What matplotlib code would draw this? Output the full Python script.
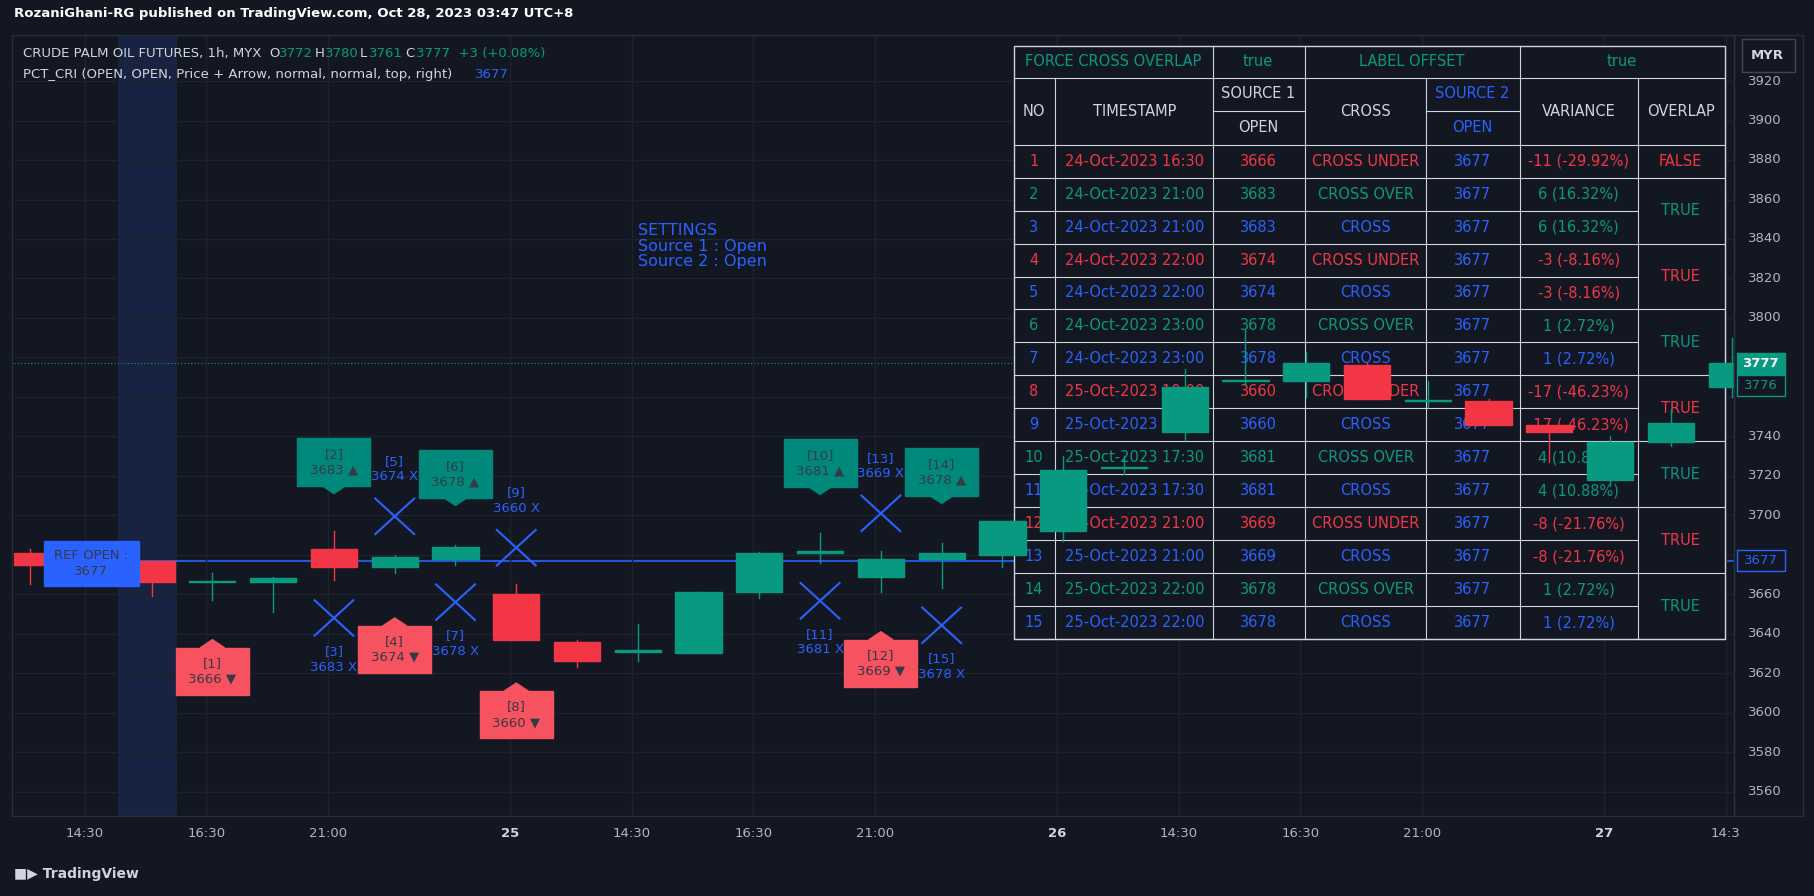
import matplotlib
matplotlib.use("Agg")
import matplotlib.pyplot as plt
from matplotlib.patches import Rectangle, Polygon

# ---- data ----
opens  = [3681, 3675, 3677, 3666, 3666, 3683, 3674, 3678, 3660, 3636, 3631, 3630, 3661, 3681, 3669,
          3678, 3680, 3692, 3724, 3742, 3768, 3768, 3776, 3758, 3758, 3746, 3718, 3737, 3765]
closes = [3675, 3677, 3666, 3666.4, 3668, 3674, 3679, 3684, 3637, 3626, 3631.4, 3661, 3681, 3682, 3678,
          3681, 3697, 3723, 3724.4, 3765, 3768.4, 3777, 3759, 3758.4, 3746, 3742, 3737, 3747, 3777]
highs  = [3683, 3686, 3677, 3671, 3669, 3692, 3680, 3685, 3665, 3637, 3645, 3661, 3681.5, 3691, 3682,
          3686, 3697, 3730, 3730, 3774, 3794, 3783, 3777, 3768, 3759, 3746, 3740, 3754, 3790]
lows   = [3665, 3671, 3659, 3657, 3651, 3667, 3671, 3675, 3637, 3623, 3626, 3630, 3658, 3676, 3661,
          3663, 3674, 3687, 3721, 3738, 3766, 3760, 3759, 3755, 3746, 3727, 3715, 3735, 3760]

ref_open = 3677
tick_pos = [1, 3, 5, 8, 10, 12, 14, 17, 19, 21, 23, 26, 28]
tick_lbl = ["14:30", "16:30", "21:00", "25", "14:30", "16:30", "21:00", "26", "14:30", "16:30", "21:00", "27", "14:3"]

# signal labels: number, bar index, value, kind, anchor price
sig_num   = [1, 2, 3, 4, 5, 6, 7, 8, 9, 10, 11, 12, 13, 14, 15]
sig_idx   = [3, 5, 5, 6, 6, 7, 7, 8, 8, 13, 13, 14, 14, 15, 15]
sig_val   = [3666, 3683, 3683, 3674, 3674, 3678, 3678, 3660, 3660, 3681, 3681, 3669, 3669, 3678, 3678]
sig_kind  = ["dn", "up", "xb", "dn", "xa", "up", "xb", "dn", "xa", "up", "xb", "dn", "xa", "up", "xb"]
sig_price = [3637, 3711, 3648, 3648, 3699.5, 3705, 3656, 3615, 3683.6, 3710.6, 3656.7, 3641, 3701, 3706, 3644.3]

# table
tb_ts = ["24-Oct-2023 16:30", "24-Oct-2023 21:00", "24-Oct-2023 21:00", "24-Oct-2023 22:00", "24-Oct-2023 22:00",
         "24-Oct-2023 23:00", "24-Oct-2023 23:00", "25-Oct-2023 10:00", "25-Oct-2023 10:00", "25-Oct-2023 17:30",
         "25-Oct-2023 17:30", "25-Oct-2023 21:00", "25-Oct-2023 21:00", "25-Oct-2023 22:00", "25-Oct-2023 22:00"]
tb_src1 = [3666, 3683, 3683, 3674, 3674, 3678, 3678, 3660, 3660, 3681, 3681, 3669, 3669, 3678, 3678]
tb_cross = ["CROSS UNDER", "CROSS OVER", "CROSS", "CROSS UNDER", "CROSS", "CROSS OVER", "CROSS", "CROSS UNDER",
            "CROSS", "CROSS OVER", "CROSS", "CROSS UNDER", "CROSS", "CROSS OVER", "CROSS"]
tb_src2 = [3677] * 15
tb_var = ["-11 (-29.92%)", "6 (16.32%)", "6 (16.32%)", "-3 (-8.16%)", "-3 (-8.16%)", "1 (2.72%)", "1 (2.72%)",
          "-17 (-46.23%)", "-17 (-46.23%)", "4 (10.88%)", "4 (10.88%)", "-8 (-21.76%)", "-8 (-21.76%)",
          "1 (2.72%)", "1 (2.72%)"]
tb_overlap = ["FALSE", "TRUE", "TRUE", "TRUE", "TRUE", "TRUE", "TRUE", "TRUE"]

BG = "#131722"
GRID = "#1e222d"
TEAL = "#089981"
RED = "#f23645"
BLUE = "#2962ff"
TXT = "#d1d4dc"
AX = "#b2b5be"

W, H = 1568.0, 774.0
SP = 52.5
fig = plt.figure(figsize=(18.15, 8.96), dpi=100, facecolor=BG)
F = fig.transFigure


def P(x, y):
    return (x / W, 1 - y / H)


ax = fig.add_axes([12 / W, 1 - 705 / H, (1498 - 12) / W, (705 - 30) / H])
ax.set_facecolor(BG)
ax.set_xlim(-14 / SP, 1472 / SP)
ax.set_ylim(3547.6, 3943.5)
for s in ax.spines.values():
    s.set_visible(False)
ax.set_xticks([t - 0.1 for t in tick_pos])
ax.set_xticklabels([])
ax.set_yticks(range(3560, 3921, 20))
ax.tick_params(length=0, labelleft=False, labelbottom=False)
ax.grid(True, color=GRID, lw=1, zorder=0)

# shaded session band
ax.axvspan(1.45, 2.42, color="#172340", zorder=0.5, lw=0)

# frame
fig.add_artist(Rectangle(P(10, 705), 1488 / W, 675 / H, transform=F, fill=False, ec="#2a2e39", lw=1))
fig.add_artist(Rectangle(P(1498, 705), 60 / W, 675 / H, transform=F, fill=False, ec="#2a2e39", lw=1))

# ref line
ax.plot([1.6, 30], [ref_open, ref_open], color=BLUE, lw=1.2, zorder=1)
ax.axhline(closes[-1], color=TEAL, lw=0.8, ls=(0, (1, 2)), zorder=1)

# table (drawn under candles)
cols = [876, 911, 1048, 1127, 1232, 1313, 1415, 1490]
rtop = 125
rh = (552 - 125) / 15
z_t = 2
ax.add_patch(Rectangle(P(876, 552), (1490 - 876) / W, 512 / H, fc=BG, ec=TXT, lw=1, clip_on=False,
                       transform=F, zorder=z_t))


def hline(x0, x1, y):
    ax.plot([x0 / W, x1 / W], [1 - y / H] * 2, color=TXT, lw=0.8, transform=F, zorder=z_t + 0.1, clip_on=False)


def vline(x, y0, y1):
    ax.plot([x / W] * 2, [1 - y0 / H, 1 - y1 / H], color=TXT, lw=0.8, transform=F, zorder=z_t + 0.1, clip_on=False)


def ttext(x, y, s, c, size=10.5):
    ax.text(x / W, 1 - y / H, s, color=c, fontsize=size, ha="center", va="center", transform=F,
            zorder=z_t + 0.2, clip_on=False)


hline(876, 1490, 67)
hline(1048, 1127, 96)
hline(1232, 1313, 96)
for i in range(16):
    y = rtop + i * rh
    if i in (0, 1, 15) or i % 2 == 1:
        hline(876, 1490, y)
    else:
        hline(876, 1415, y)
for c in cols[1:-1]:
    vline(c, 67, 552)
for c in (1048, 1127, 1313):
    vline(c, 40, 67)

ttext(962, 53, "FORCE CROSS OVERLAP", TEAL)
ttext(1087, 53, "true", TEAL)
ttext(1220, 53, "LABEL OFFSET", TEAL)
ttext(1401, 53, "true", TEAL)
ttext(893, 96, "NO", TXT)
ttext(980, 96, "TIMESTAMP", TXT)
ttext(1087, 81, "SOURCE 1", TXT)
ttext(1087, 110, "OPEN", TXT)
ttext(1180, 96, "CROSS", TXT)
ttext(1272, 81, "SOURCE 2", BLUE)
ttext(1272, 110, "OPEN", BLUE)
ttext(1364, 96, "VARIANCE", TXT)
ttext(1452, 96, "OVERLAP", TXT)

var_col = [RED, TEAL, TEAL, RED, RED, TEAL, BLUE, RED, RED, TEAL, TEAL, RED, RED, TEAL, BLUE]
for i in range(15):
    y = rtop + (i + 0.5) * rh
    c = RED if tb_cross[i] == "CROSS UNDER" else TEAL if tb_cross[i] == "CROSS OVER" else BLUE
    ttext(893, y, str(i + 1), c)
    ttext(980, y, tb_ts[i], c)
    ttext(1087, y, str(tb_src1[i]), c)
    ttext(1180, y, tb_cross[i], c)
    ttext(1272, y, str(tb_src2[i]), BLUE)
    ttext(1364, y, tb_var[i], var_col[i])
ttext(1452, rtop + 0.5 * rh, tb_overlap[0], RED)
for k in range(1, 8):
    y = rtop + (2 * k) * rh
    ttext(1452, y, tb_overlap[k], TEAL if k % 2 == 1 else RED)

# candles
bw = 0.76
for i, (o, h, l, c) in enumerate(zip(opens, highs, lows, closes)):
    col = TEAL if c >= o else RED
    ax.plot([i, i], [l, h], color=col, lw=1, zorder=3)
    ax.add_patch(Rectangle((i - bw / 2, min(o, c)), bw, max(abs(c - o), 0.6), color=col, zorder=3.1))

# signal labels
LRED = "#f7525f"
LTEAL = "#00897b"
DARK = "#363a45"
for n, i, v, k, p in zip(sig_num, sig_idx, sig_val, sig_kind, sig_price):
    if k in ("up", "dn"):
        w, hh, tip = 1.2, 24, 4
        if k == "up":
            col, y0, tri = LTEAL, p + tip, [(i - 0.2, p + tip + 0.1), (i + 0.2, p + tip + 0.1), (i, p)]
            s = f"[{n}]\n{v} ▲"
        else:
            col, y0, tri = LRED, p - tip - hh, [(i - 0.2, p - tip - 0.1), (i + 0.2, p - tip - 0.1), (i, p)]
            s = f"[{n}]\n{v} ▼"
        ax.add_patch(Rectangle((i - w / 2, y0), w, hh, color=col, zorder=4))
        ax.add_patch(Polygon(tri, color=col, zorder=4))
        ax.text(i, y0 + hh / 2, s, color=DARK, fontsize=9.5, ha="center", va="center", zorder=5,
                linespacing=1.25)
    else:
        ax.plot([i - 0.32, i + 0.32], [p - 9, p + 9], color=BLUE, lw=1.5, zorder=4)
        ax.plot([i - 0.32, i + 0.32], [p + 9, p - 9], color=BLUE, lw=1.5, zorder=4)
        ty = p + 24 if k == "xa" else p - 21
        ax.text(i, ty, f"[{n}]\n{v} X", color=BLUE, fontsize=9.5, ha="center", va="center", zorder=5,
                linespacing=1.25)

# ref open label
ax.add_patch(Rectangle((0.23, 3664), 1.57, 23, color=BLUE, zorder=4))
ax.text(1.0, 3675.5, "REF OPEN :\n3677", color=DARK, fontsize=9.5, ha="center", va="center", zorder=5,
        linespacing=1.3)

# settings
ax.text(10.0, 3848, "SETTINGS\nSource 1 : Open\nSource 2 : Open", color=BLUE, fontsize=11.5,
        ha="left", va="top", zorder=5, linespacing=1.05)


def price_y(v):
    return 70 + (3920 - v) / 20 * 34.1


# right price axis
for v in range(3560, 3921, 20):
    if v in (3680, 3760, 3780):
        continue
    fig.text(1525 / W, 1 - price_y(v) / H, str(v), color=AX, fontsize=9.5, ha="center", va="center")
for v, yy, fc, ec, tc in [(3777, price_y(3777), TEAL, TEAL, "white"), (3776, price_y(3777) + 19, BG, TEAL, TEAL),
                          (3677, price_y(3677), BG, BLUE, BLUE)]:
    fig.add_artist(Rectangle(P(1501, yy + 9), 41 / W, 18 / H, transform=F, fc=fc, ec=ec, lw=1))
    fig.text(1521 / W, 1 - yy / H, str(v), color=tc, fontsize=9.5, ha="center", va="center",
             fontweight="bold" if v == 3777 else "normal")
fig.add_artist(Rectangle(P(1505, 62), 46 / W, 28 / H, transform=F, fc=BG, ec="#434651", lw=1))
fig.text(1527 / W, 1 - 48 / H, "MYR", color=TXT, fontsize=9.5, ha="center", va="center", fontweight="bold")

# time axis
for t, s in zip(tick_pos, tick_lbl):
    xd = 26 + (t - 0.1) * SP
    fig.text(xd / W, 1 - 720 / H, s, color=AX if len(s) > 2 else TXT, fontsize=9.5, ha="center",
             va="center", fontweight="bold" if len(s) == 2 else "normal")

# header texts
fig.text(12 / W, 1 - 12 / H, "RozaniGhani-RG published on TradingView.com, Oct 28, 2023 03:47 UTC+8",
         color="white", fontsize=9.5, ha="left", va="center", fontweight="bold")
fig.text(20 / W, 1 - 46 / H, "CRUDE PALM OIL FUTURES, 1h, MYX  O", color=TXT, fontsize=9.5, ha="left", va="center")
legend_parts = [(241, "3772", TEAL), (272, "H", TXT), (281, "3780", TEAL), (311, "L", TXT), (319, "3761", TEAL),
                (350, "C", TXT), (359, "3777  +3 (+0.08%)", TEAL)]
for xx, s, c in legend_parts:
    fig.text(xx / W, 1 - 46 / H, s, color=c, fontsize=9.5, ha="left", va="center")
fig.text(20 / W, 1 - 64 / H, "PCT_CRI (OPEN, OPEN, Price + Arrow, normal, normal, top, right)", color=TXT,
         fontsize=9.5, ha="left", va="center")
fig.text(410 / W, 1 - 64 / H, "3677", color=BLUE, fontsize=9.5, ha="left", va="center")
fig.text(12 / W, 1 - 755 / H, "\u25a0\u25b6 TradingView", color=TXT, fontsize=10, ha="left", va="center",
         fontweight="bold")

fig.savefig("out.png", dpi=100, facecolor=BG)
